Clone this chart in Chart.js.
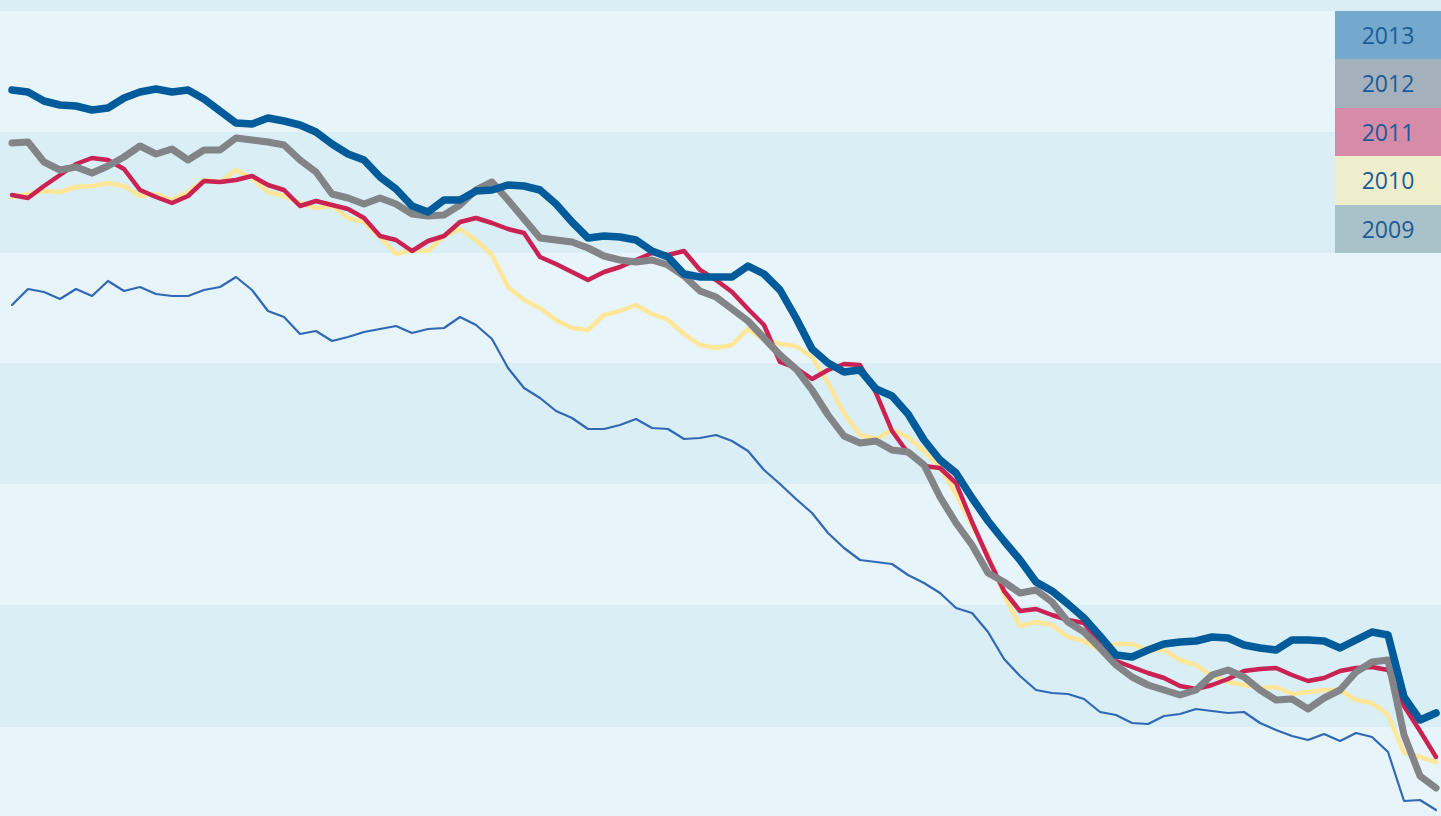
<!DOCTYPE html>
<html>
<head>
<meta charset="utf-8">
<script src="https://cdn.jsdelivr.net/npm/chart.js@4"></script>
<style>
    html, body { margin: 0; padding: 0; background: #e7f4f9; overflow: hidden; }
    #wrap { position: relative; width: 1441px; height: 816px; }
    #legend { position: absolute; right: 0; top: 11px; width: 106px; font-family: "Open Sans", sans-serif; }
    #legend div { height: 48.4px; line-height: 48.4px; text-align: center; font-size: 23px; color: #1b5c98; }
</style>
</head>
<body>
<div id="wrap">
    <canvas id="chart"></canvas>
    <div id="legend"></div>
</div>
<script>
// Series, top to bottom in the legend
const years = ['2013', '2012', '2011', '2010', '2009'];
const lineColors = ['#005b9b', '#838487', '#c92253', '#ffe698', '#3068b4'];
const lineWidths = [7.5, 7, 4.5, 4.5, 2.2];
const legendColors = ['#74a8cd', '#a4b1bd', '#d68ba8', '#eeeecc', '#a9c1c9'];

const s2013 = [72.6,72.4,71.5,71.1,71.0,70.6,70.8,71.8,72.4,72.7, 72.4,72.6,71.7,70.5,69.3,69.2,69.8,69.5,69.1,68.4,
    67.2,66.2,65.6,63.9,62.7,61.0,60.4,61.6,61.6,62.5, 62.6,63.1,63.0,62.6,61.2,59.4,57.8,58.0,57.9,57.6,
    56.5,55.9,54.2,53.9,53.9,53.9,55.0,54.2,52.6,49.8, 46.7,45.3,44.4,44.6,42.7,42.0,40.2,37.6,35.6,34.3,
    31.8,29.5,27.5,25.6,23.4,22.5,21.2,19.8,18.0,16.1, 15.9,16.6,17.2,17.4,17.5,17.9,17.8,17.1,16.8,16.6,
    17.6,17.6,17.5,16.8,17.6,18.4,18.1,11.9,9.6,10.3];
const s2012 = [67.3,67.4,65.4,64.6,64.9,64.3,65.0,65.9,67.0,66.2, 66.7,65.6,66.6,66.6,67.8,67.6,67.4,67.1,65.6,64.4,
    62.2,61.8,61.2,61.8,61.2,60.2,60.0,60.1,61.1,62.6, 63.4,61.6,59.7,57.8,57.6,57.4,56.8,56.0,55.6,55.4,
    55.6,55.1,54.0,52.5,51.9,50.7,49.5,47.8,46.1,44.7, 42.6,40.1,38.0,37.3,37.5,36.6,36.4,35.1,31.9,29.3,
    27.1,24.3,23.4,22.3,22.6,21.4,19.4,18.4,16.8,15.1, 13.9,13.1,12.6,12.1,12.6,14.1,14.6,13.9,12.6,11.6,
    11.7,10.7,11.8,12.6,14.4,15.4,15.6,8.1,4.0,2.8];
const s2011 = [62.1,61.8,63.0,64.1,65.2,65.8,65.6,64.7,62.6,61.9, 61.3,62.0,63.5,63.4,63.6,64.0,63.1,62.6,61.0,61.5,
    61.1,60.7,59.8,58.0,57.6,56.5,57.5,58.0,59.4,59.8, 59.3,58.7,58.3,55.9,55.2,54.4,53.6,54.4,54.9,55.6,
    56.3,56.1,56.5,54.6,53.6,52.4,50.7,49.1,45.4,44.8, 43.7,44.6,45.2,45.1,42.3,38.5,36.3,35.0,34.8,33.3,
    29.4,25.8,22.5,20.5,20.7,20.1,19.6,19.3,17.1,15.5, 14.9,14.3,13.8,13.0,12.7,13.1,13.7,14.5,14.7,14.8,
    14.1,13.5,13.8,14.5,14.8,14.9,14.6,11.0,8.5,5.9];
const s2010 = [61.9,62.2,62.5,62.4,62.9,63.0,63.3,63.0,62.0,62.2, 61.6,62.4,63.6,63.4,64.6,63.8,62.4,62.0,61.3,60.8,
    61.0,59.8,59.4,57.9,56.2,56.6,56.5,58.0,58.7,57.6, 56.1,52.9,51.6,50.8,49.6,48.8,48.6,50.1,50.5,51.1,
    50.2,49.6,48.2,47.1,46.8,47.1,48.7,47.6,47.2,47.0, 45.9,43.3,40.3,38.1,37.7,38.6,37.9,36.5,34.9,32.2,
    29.1,26.1,22.1,19.0,19.4,19.1,17.9,17.5,16.6,17.2, 17.2,16.6,16.6,15.6,15.1,14.0,13.4,13.1,12.8,12.9,
    12.2,12.4,12.6,12.6,11.6,11.3,10.1,6.3,5.9,5.4];
const s2009 = [51.1,52.7,52.4,51.7,52.7,52.0,53.5,52.5,52.9,52.2, 52.0,52.0,52.6,52.9,53.9,52.6,50.5,49.9,48.2,48.5,
    47.5,47.9,48.4,48.7,49.0,48.3,48.7,48.8,49.9,49.1, 47.7,44.8,42.8,41.8,40.5,39.8,38.7,38.7,39.1,39.7,
    38.8,38.7,37.7,37.8,38.1,37.5,36.5,34.6,33.2,31.7, 30.3,28.3,26.8,25.6,25.4,25.2,24.1,23.3,22.3,20.8,
    20.3,18.4,15.7,14.0,12.6,12.3,12.2,11.7,10.4,10.1, 9.3,9.2,10.0,10.2,10.7,10.5,10.3,10.4,9.3,8.6,
    8.0,7.6,8.2,7.5,8.3,7.9,6.4,1.5,1.6,0.6];

const seriesValues = [s2013, s2012, s2011, s2010, s2009];

// alternating background bands, drawn between these y values
const bandEdges = [0, 8.9, 21.1, 33.2, 45.3, 56.3, 68.4, 80.5, 81.6];
const bandColors = ['#e7f4f9', '#d9eef5'];

const bandsPlugin = {
    id: 'bands',
    beforeDraw(chart) {
        const { ctx, chartArea, scales } = chart;
        const y = scales.y;
        ctx.save();
        for (let i = 0; i < bandEdges.length - 1; i++) {
            const top = y.getPixelForValue(bandEdges[i + 1]);
            const bottom = y.getPixelForValue(bandEdges[i]);
            ctx.fillStyle = bandColors[i % 2];
            ctx.fillRect(chartArea.left, top, chartArea.right - chartArea.left, bottom - top);
        }
        ctx.restore();
    }
};

const datasets = years.map((year, i) => ({
    label: year,
    data: seriesValues[i].map((v, k) => ({ x: k, y: v })),
    borderColor: lineColors[i],
    borderWidth: lineWidths[i],
    pointRadius: 0,
    tension: 0,
    borderJoinStyle: 'round',
    borderCapStyle: 'round',
    fill: false
}));

new Chart(document.getElementById('chart'), {
    type: 'line',
    data: { datasets },
    options: {
        responsive: true,
        maintainAspectRatio: false,
        animation: false,
        layout: { padding: 0 },
        plugins: { legend: { display: false }, tooltip: { enabled: false } },
        scales: {
            x: { type: 'linear', display: false, min: -0.75, max: 89.31 },
            y: { display: false, min: 0, max: 81.6 }
        }
    },
    plugins: [bandsPlugin]
});

// Legend boxes
const legend = document.getElementById('legend');
years.forEach((year, i) => {
    const row = document.createElement('div');
    row.textContent = year;
    row.style.background = legendColors[i];
    legend.appendChild(row);
});
</script>
</body>
</html>
